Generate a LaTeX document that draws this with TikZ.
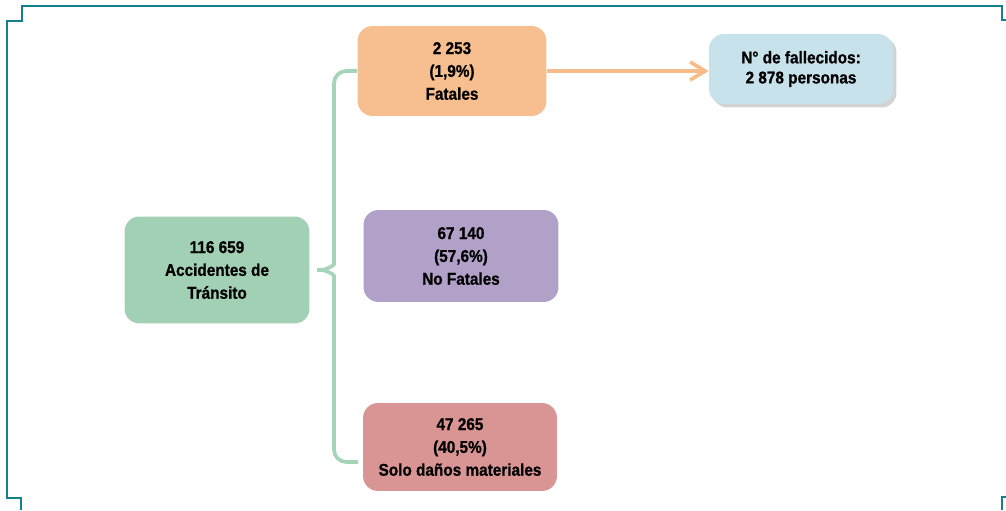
\documentclass[tikz,border=0pt]{standalone}
\usepackage{fontspec}
\setmainfont{Liberation Sans}
\newfontfamily\boxfont{Liberation Sans}[FakeStretch=0.9, BoldFeatures={FakeBold=0.8}]
\usetikzlibrary{positioning, arrows.meta, shadows}

\definecolor{totgreen}{HTML}{A2D0B4}
\definecolor{fatorange}{HTML}{F7BF8F}
\definecolor{nofpurple}{HTML}{B1A0C7}
\definecolor{solred}{HTML}{D99594}
\definecolor{falblue}{HTML}{C8E2EB}
\definecolor{frameteal}{HTML}{13808A}
\definecolor{bracegreen}{HTML}{A6D4B8}
\definecolor{arrorange}{HTML}{F8BC8A}

\begin{document}
\begin{tikzpicture}[
            x=0.02cm, y=-0.02cm,
            box/.style={rounded corners=0.3cm, align=center, inner sep=0pt,
                font=\boxfont\bfseries\fontsize{9.7}{13}\selectfont},
            frame/.style={draw=frameteal, line width=1.6pt},
            brace/.style={draw=bracegreen, line width=2.1pt},
            arr/.style={-{Straight Barb[length=3mm, width=3.6mm]}, draw=arrorange, line width=2.1pt}
        ]
            \useasboundingbox (0,0) rectangle (1006,510);

            % Frame pieces
            \draw[frame] (21,510) -- (21,498) -- (7,498) -- (7,21) -- (22,21) -- (22,6)
                -- (1002,6) -- (1002,20) -- (1006,20);
            \draw[frame] (1006,497) -- (1002,497) -- (1002,510);

            % Boxes
            \node[box, fill=totgreen, minimum width=3.7cm, minimum height=2.14cm] (tot) at (217,270)
                {116 659\\Accidentes de\\Tránsito};
            \node[box, fill=fatorange, minimum width=3.78cm, minimum height=1.8cm] (fat) at (452,71)
                {2 253\\(1,9\%)\\Fatales};
            \node[box, fill=nofpurple, minimum width=3.9cm, minimum height=1.84cm] (nof) at (461,256)
                {67 140\\(57,6\%)\\No Fatales};
            \node[box, fill=solred, minimum width=3.88cm, minimum height=1.76cm] (sol) at (460,447)
                {47 265\\(40,5\%)\\Solo daños materiales};
            \node[box, fill=falblue, minimum width=3.68cm, minimum height=1.4cm,
                font=\boxfont\bfseries\fontsize{9.7}{11.4}\selectfont,
                drop shadow={shadow xshift=0.07cm, shadow yshift=-0.07cm, opacity=0.35}] (fal) at (801,69)
                {N° de fallecidos:\\2 878 personas};

            % Brace
            \coordinate (brEnd) at (358,462);
            \draw[brace, rounded corners=7] (fat.west) -- (334,71) -- (334,252)
                .. controls (334,266) and (324,270) .. (tot.east)
                .. controls (324,270) and (334,274) .. (334,288) -- (334,462) -- (brEnd);

            % Fatalities
            \draw[arr] (fat.east) -- (fat.east -| fal.west);
        \end{tikzpicture}
\end{document}
